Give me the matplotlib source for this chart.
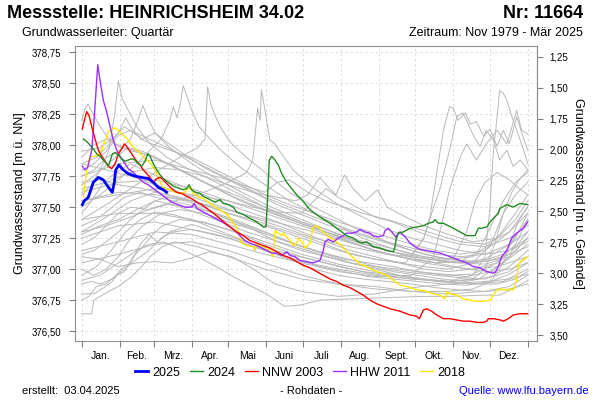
import numpy as np
import matplotlib
matplotlib.use('Agg')
import matplotlib.pyplot as plt
from matplotlib.ticker import FuncFormatter

plt.rcParams['font.family'] = ['Liberation Sans', 'DejaVu Sans']

# Kalender (Tag im Jahr)
month_starts = [0, 31, 59, 90, 120, 151, 181, 212, 243, 273, 304, 334, 365]
month_names = ['Jan.', 'Feb.', 'Mrz.', 'Apr.', 'Mai', 'Juni', 'Juli', 'Aug.', 'Sept.', 'Okt.', 'Nov.', 'Dez.']
gelaende = 379.965  # Gelaendehoehe, fuer rechte Achse

# farbige Jahre: (Tag, Wasserstand m u. NN)
y2025 = [(0.5, 377.52), (2, 377.55), (5.4, 377.58), (9.5, 377.70), (13.6, 377.74), (17.7, 377.72),
         (21.8, 377.66), (25, 377.62), (26.7, 377.70), (27.8, 377.80), (30.5, 377.84), (34, 377.80),
         (38, 377.77), (43.6, 377.75), (49, 377.74), (54.5, 377.73), (58.6, 377.70), (62.7, 377.66),
         (66.8, 377.64), (69.5, 377.62)]

y2024 = [(1.4, 378.05), (4.1, 378.03), (6.8, 378.00), (9.5, 377.97), (12.3, 377.93), (15, 377.91),
         (17.7, 377.88), (20.4, 377.85), (21.8, 377.83), (23.2, 377.87), (25.1, 377.93), (27.3, 377.94),
         (30, 377.92), (32.7, 377.89), (35.4, 377.87), (38.1, 377.88), (40.9, 377.89), (43.6, 377.88),
         (46.3, 377.85), (49.1, 377.83), (51.8, 377.87), (54, 377.93), (55.9, 377.91), (58.6, 377.85),
         (61.4, 377.80), (64.1, 377.76), (66.8, 377.73), (69.5, 377.71), (72.3, 377.69), (75, 377.67),
         (77.7, 377.66), (80.4, 377.65), (83.1, 377.64), (85.9, 377.65), (87.8, 377.68), (90, 377.64),
         (92.7, 377.62), (96.8, 377.61), (100.9, 377.58), (105, 377.56), (109.1, 377.54), (113.2, 377.56),
         (115.9, 377.53), (120, 377.52), (124.1, 377.50), (126.8, 377.46), (132.3, 377.44), (137.7, 377.41),
         (143.2, 377.38), (148.6, 377.34), (150.8, 377.34), (151.9, 377.53), (153.5, 377.88), (155.5, 377.91),
         (158.2, 377.88), (160.9, 377.84), (163.7, 377.77), (167.8, 377.70), (171.8, 377.65), (175.9, 377.60),
         (180, 377.56), (186.8, 377.48), (195, 377.42), (203.2, 377.37), (211.4, 377.31), (216.9, 377.27),
         (222.3, 377.25), (226.4, 377.22), (229.1, 377.21), (233.2, 377.22), (238.6, 377.18), (244.1, 377.17),
         (249.6, 377.15), (255, 377.14), (256.4, 377.18), (257.8, 377.27), (259.1, 377.29), (263.2, 377.30),
         (268.7, 377.33), (274.1, 377.34), (279.6, 377.35), (283.7, 377.37), (287.7, 377.38), (289.1, 377.40),
         (291.8, 377.37), (295.9, 377.37), (300, 377.35), (304.2, 377.33), (309.6, 377.30), (315.1, 377.27),
         (317.8, 377.27), (321.9, 377.27), (324.6, 377.33), (327.3, 377.33), (331.5, 377.34), (334.2, 377.38),
         (336.9, 377.41), (341, 377.45), (342.3, 377.49), (347.8, 377.52), (353.2, 377.50), (358.7, 377.53),
         (365, 377.52)]

nnw2003 = [(0.5, 378.13), (2.1, 378.20), (4.1, 378.27), (6, 378.24), (8.2, 378.15), (10.9, 378.05),
           (13.6, 377.96), (16.4, 377.91), (19.1, 377.87), (21.8, 377.83), (24.5, 377.81), (27.3, 377.85),
           (30, 377.93), (32.7, 377.97), (34.9, 378.01), (36.8, 377.99), (39.5, 377.95), (42.2, 377.91),
           (45, 377.87), (47.7, 377.84), (50.4, 377.80), (53.2, 377.77), (55.9, 377.74), (58.6, 377.70),
           (61.4, 377.73), (64.1, 377.74), (66.8, 377.72), (69.5, 377.69), (73.6, 377.65), (77.7, 377.62),
           (81.8, 377.61), (87.3, 377.58), (91.4, 377.56), (94.1, 377.54), (98.2, 377.52), (103.6, 377.48),
           (108, 377.45), (114, 377.40), (121.4, 377.34), (126.8, 377.30), (132.3, 377.27), (137.7, 377.23),
           (143.2, 377.21), (148.6, 377.19), (154.1, 377.17), (159.6, 377.14), (165, 377.11), (170.5, 377.09),
           (176, 377.06), (181.4, 377.03), (186.8, 377.01), (192.3, 376.98), (197.7, 376.95), (203.2, 376.92),
           (208.7, 376.90), (214.1, 376.87), (219.6, 376.85), (225, 376.82), (230.4, 376.79), (235.9, 376.75),
           (241.4, 376.72), (246.8, 376.70), (252.3, 376.68), (260.5, 376.66), (268.7, 376.63), (274.1, 376.62),
           (276.3, 376.60), (279.6, 376.67), (282.3, 376.68), (286.4, 376.66), (290.5, 376.63), (295.9, 376.60),
           (301.4, 376.60), (306.9, 376.59), (312.3, 376.58), (317.7, 376.58), (323.2, 376.57), (328.6, 376.57),
           (331.4, 376.58), (332.8, 376.60), (336.9, 376.60), (342.4, 376.59), (345.1, 376.58), (349.1, 376.60),
           (353.2, 376.63), (358.7, 376.64), (365, 376.64)]

hhw2011 = [(0.5, 377.83), (2.7, 377.80), (4.9, 377.82), (8.2, 377.96), (10.3, 378.23), (11.7, 378.44),
           (13.1, 378.65), (15, 378.52), (17.7, 378.36), (20.4, 378.27), (23.2, 378.15), (25.9, 378.04),
           (28.6, 377.96), (31.3, 377.91), (34.1, 377.87), (38.1, 377.81), (42.2, 377.78), (46.3, 377.74),
           (50.4, 377.70), (54.5, 377.68), (58.6, 377.65), (62.7, 377.62), (68.2, 377.58), (73.6, 377.54),
           (79.1, 377.52), (84.5, 377.50), (90, 377.50), (92.1, 377.53), (94.1, 377.49), (99.5, 377.46),
           (103.6, 377.44), (109.1, 377.41), (115, 377.38), (121.4, 377.34), (125.5, 377.31), (129.5, 377.27),
           (133.6, 377.23), (137.7, 377.21), (143.2, 377.19), (147.3, 377.17), (151.4, 377.15), (155.5, 377.13),
           (159.6, 377.13), (163.7, 377.11), (167.8, 377.14), (170.5, 377.11), (174.5, 377.10), (178.6, 377.07),
           (184.1, 377.06), (189.5, 377.05), (195, 377.07), (197.7, 377.15), (199.1, 377.22), (201.8, 377.24),
           (205.9, 377.22), (210, 377.25), (214.1, 377.27), (216.9, 377.29), (220.9, 377.29), (225, 377.30),
           (227.7, 377.32), (231.8, 377.30), (235.9, 377.29), (238.6, 377.27), (242.7, 377.26), (246.8, 377.27),
           (248.2, 377.31), (250.9, 377.33), (253.7, 377.30), (257.8, 377.25), (259.1, 377.29), (260.5, 377.30),
           (264.6, 377.26), (268.7, 377.21), (272.8, 377.18), (276.8, 377.16), (282.3, 377.15), (287.7, 377.14),
           (293.2, 377.13), (298.7, 377.11), (304.2, 377.09), (309.6, 377.07), (315.1, 377.05), (320.6, 377.02),
           (326, 377.01), (331.5, 376.98), (335.5, 376.97), (338.2, 376.97), (340.9, 377.02), (343.7, 377.10),
           (347.8, 377.15), (351.9, 377.25), (356, 377.29), (361.4, 377.33), (365, 377.38)]

y2018 = [(1.4, 377.58), (2.7, 377.69), (4.1, 377.80), (6, 377.88), (8.2, 377.91), (10.9, 377.91),
         (13.6, 377.92), (16.4, 377.96), (19.1, 378.04), (21.8, 378.11), (24.5, 378.13), (27.3, 378.14),
         (30, 378.12), (32.7, 378.09), (35.4, 378.07), (38.1, 378.04), (40.9, 378.00), (43.6, 377.97),
         (46.3, 377.95), (49.1, 377.92), (51.8, 377.89), (54.5, 377.87), (57.3, 377.84), (60, 377.80),
         (62.7, 377.74), (64.9, 377.69), (66, 377.66), (68.2, 377.65), (72.3, 377.64), (76.4, 377.62),
         (80.4, 377.61), (84.5, 377.62), (87.3, 377.66), (89.4, 377.64), (91.4, 377.61), (95.5, 377.58),
         (99.5, 377.57), (103.6, 377.54), (109.1, 377.50), (114.6, 377.47), (120, 377.43), (124.1, 377.37),
         (128.1, 377.31), (130.9, 377.21), (135, 377.19), (140.4, 377.18), (141.8, 377.15), (143.2, 377.21),
         (145.9, 377.19), (148.6, 377.18), (151.4, 377.17), (154.1, 377.15), (156.3, 377.10), (158.2, 377.31),
         (160.9, 377.29), (163.7, 377.27), (165, 377.29), (167.8, 377.26), (170.5, 377.23), (173.2, 377.19),
         (176, 377.21), (177.3, 377.25), (180, 377.22), (182.7, 377.17), (186.8, 377.21), (189.5, 377.34),
         (192.3, 377.35), (196.4, 377.31), (200.5, 377.27), (205.9, 377.24), (211.4, 377.20), (216.9, 377.14),
         (222.3, 377.09), (227.7, 377.04), (233.2, 377.02), (238.6, 376.99), (244.1, 376.97), (249.6, 376.95),
         (255, 376.91), (260.5, 376.87), (266, 376.86), (271.4, 376.84), (276.8, 376.83), (282.3, 376.82),
         (287.7, 376.80), (293.2, 376.79), (297.3, 376.76), (298.7, 376.82), (301.4, 376.80), (306.9, 376.79),
         (312.3, 376.76), (317.8, 376.75), (323.2, 376.74), (328.6, 376.74), (334.2, 376.75), (336.9, 376.79),
         (339.6, 376.83), (342.3, 376.84), (347.8, 376.83), (350.5, 376.84), (353.2, 376.83), (356, 376.91),
         (357.3, 377.03), (360.1, 377.07), (365, 377.10)]

g01 = [(0, 376.64), (8, 376.64), (10, 376.75), (22, 376.82), (30, 376.86), (41, 376.94), (49, 377.02), (57, 377.11),
       (66, 377.18), (76, 377.22), (95, 377.18), (120, 377.10), (150, 377.00), (180, 376.92), (210, 376.88),
       (240, 376.86), (270, 376.82), (300, 376.80), (330, 376.82), (350, 376.86), (365, 376.95)]
g02 = [(0, 376.75), (6, 376.78), (12, 376.86), (20, 376.88), (28, 376.95), (35, 376.98), (42, 377.10), (50, 377.18),
       (58, 377.28), (66, 377.35), (80, 377.40), (100, 377.38), (125, 377.30), (150, 377.20), (180, 377.10),
       (210, 377.02), (240, 376.96), (270, 376.92), (300, 376.90), (325, 376.92), (345, 377.05), (365, 377.20)]
g03 = [(0, 376.80), (10, 376.80), (18, 376.85), (25, 376.90), (32, 377.00), (40, 377.05), (48, 377.20), (55, 377.28),
       (62, 377.22), (72, 377.30), (90, 377.36), (110, 377.30), (140, 377.20), (170, 377.12), (200, 377.05),
       (230, 376.98), (260, 376.95), (290, 376.90), (320, 376.88), (345, 376.90), (365, 377.00)]
g04 = [(0, 376.91), (15, 376.95), (30, 377.05), (45, 377.15), (55, 377.20), (67, 377.22), (86, 377.14), (97, 377.09),
       (110, 377.02), (124, 376.94), (137, 376.87), (151, 376.80), (166, 376.70), (179, 376.71), (195, 376.75),
       (220, 376.76), (250, 376.77), (280, 376.78), (301, 376.78), (330, 376.79), (342, 376.79), (355, 376.85),
       (365, 376.91)]
g05 = [(0, 377.10), (15, 377.08), (30, 377.02), (45, 377.05), (59, 377.06), (74, 377.05), (90, 377.09), (104, 377.14),
       (123, 377.10), (139, 377.01), (158, 376.88), (180, 376.82), (210, 376.78), (240, 376.80), (270, 376.85),
       (300, 376.88), (330, 376.90), (350, 376.92), (365, 376.96)]
g06 = [(0, 377.20), (10, 377.25), (20, 377.35), (30, 377.45), (40, 377.50), (55, 377.48), (70, 377.52), (90, 377.50),
       (110, 377.45), (130, 377.38), (150, 377.30), (170, 377.22), (190, 377.15), (210, 377.10), (230, 377.05),
       (250, 377.00), (270, 376.97), (290, 376.95), (310, 376.93), (330, 376.92), (350, 376.98), (365, 377.10)]
g07 = [(0, 377.35), (12, 377.40), (25, 377.50), (35, 377.58), (48, 377.62), (60, 377.58), (75, 377.55), (95, 377.50),
       (115, 377.42), (135, 377.35), (155, 377.28), (175, 377.20), (195, 377.14), (215, 377.08), (235, 377.05),
       (255, 377.02), (275, 376.98), (295, 376.96), (315, 376.94), (335, 376.98), (350, 377.10), (365, 377.25)]
g08 = [(0, 377.45), (8, 377.55), (18, 377.70), (28, 377.78), (40, 377.85), (50, 377.80), (62, 377.75), (80, 377.68),
       (100, 377.60), (120, 377.52), (140, 377.45), (160, 377.38), (180, 377.30), (200, 377.22), (220, 377.15),
       (240, 377.10), (260, 377.05), (280, 377.00), (300, 376.98), (320, 377.00), (340, 377.05), (355, 377.20),
       (365, 377.40)]
g09 = [(0, 377.60), (8, 377.68), (15, 377.80), (22, 377.95), (27, 378.25), (30, 378.52), (33, 378.38), (37, 378.30),
       (45, 378.15), (55, 378.02), (70, 377.90), (85, 377.82), (100, 377.75), (120, 377.65), (140, 377.55),
       (160, 377.45), (180, 377.38), (200, 377.30), (220, 377.22), (240, 377.15), (260, 377.10), (280, 377.05),
       (300, 377.02), (320, 377.00), (340, 377.02), (365, 377.10)]
g10 = [(0, 378.20), (3, 378.30), (5, 378.33), (9, 378.26), (15, 378.15), (23, 378.04), (32, 377.98), (42, 377.95),
       (55, 377.92), (70, 377.85), (90, 377.75), (110, 377.65), (130, 377.55), (150, 377.47), (170, 377.40),
       (190, 377.33), (210, 377.27), (230, 377.20), (250, 377.15), (270, 377.10), (290, 377.07), (310, 377.05),
       (330, 377.08), (350, 377.20), (365, 377.40)]
g11 = [(0, 377.75), (10, 377.80), (20, 377.90), (30, 377.95), (40, 378.05), (46, 378.20), (50, 378.32), (54, 378.22),
       (60, 378.10), (70, 378.00), (80, 377.92), (95, 377.82), (115, 377.70), (135, 377.60), (155, 377.50),
       (175, 377.42), (195, 377.34), (215, 377.26), (235, 377.20), (255, 377.14), (275, 377.08), (295, 377.04),
       (315, 377.00), (335, 376.98), (350, 377.00), (365, 377.05)]
g12 = [(0, 377.50), (15, 377.60), (30, 377.72), (45, 377.85), (55, 377.95), (65, 378.05), (72, 378.20), (75, 378.31),
       (78, 378.22), (81, 378.35), (83, 378.48), (86, 378.40), (90, 378.28), (96, 378.15), (105, 378.05),
       (115, 377.95), (130, 377.82), (150, 377.68), (170, 377.55), (190, 377.45), (210, 377.35), (230, 377.25),
       (250, 377.18), (270, 377.12), (290, 377.08), (310, 377.05), (330, 377.04), (350, 377.10), (365, 377.25)]
g13 = [(0, 377.40), (20, 377.52), (40, 377.65), (60, 377.78), (80, 377.90), (95, 377.98), (101, 378.05), (103, 378.47),
       (106, 378.32), (110, 378.22), (115, 378.12), (122, 378.02), (135, 377.90), (150, 377.78), (170, 377.62),
       (190, 377.50), (210, 377.40), (230, 377.30), (250, 377.22), (270, 377.15), (290, 377.10), (310, 377.07),
       (330, 377.06), (350, 377.12), (365, 377.30)]
g14 = [(0, 377.30), (20, 377.35), (40, 377.42), (60, 377.50), (80, 377.56), (100, 377.62), (120, 377.70), (135, 377.78),
       (140, 377.88), (144, 378.30), (146, 378.20), (147, 378.45), (150, 378.28), (154, 378.04), (158, 378.01),
       (165, 377.91), (173, 377.80), (190, 377.65), (210, 377.52), (230, 377.42), (250, 377.32), (270, 377.25),
       (290, 377.20), (310, 377.15), (330, 377.12), (350, 377.15), (365, 377.22)]
g15 = [(0, 377.65), (20, 377.70), (40, 377.78), (60, 377.82), (80, 377.80), (100, 377.75), (120, 377.68), (140, 377.62),
       (160, 377.58), (175, 377.55), (185, 377.60), (195, 377.74), (200, 377.68), (208, 377.60), (215, 377.76),
       (222, 377.65), (232, 377.55), (242, 377.64), (250, 377.50), (265, 377.42), (280, 377.35), (300, 377.28),
       (320, 377.22), (340, 377.25), (355, 377.40), (365, 377.55)]
g16 = [(0, 377.85), (20, 377.80), (40, 377.75), (60, 377.68), (80, 377.62), (100, 377.55), (130, 377.45), (160, 377.35),
       (190, 377.25), (220, 377.18), (250, 377.12), (270, 377.10), (280, 377.25), (285, 377.42), (290, 377.74),
       (296, 378.12), (301, 378.31), (304, 378.30), (308, 378.20), (314, 378.26), (318, 378.17), (323, 378.19),
       (329, 378.07), (334, 378.13), (340, 377.99), (345, 378.12), (350, 378.01), (356, 378.23), (361, 378.07),
       (365, 377.96)]
g17 = [(0, 377.25), (30, 377.35), (60, 377.38), (90, 377.32), (120, 377.25), (150, 377.15), (180, 377.06), (210, 377.00),
       (240, 376.95), (270, 376.92), (300, 376.90), (320, 376.95), (330, 377.10), (334, 377.48), (337, 377.96),
       (340, 378.23), (342, 378.44), (345, 378.42), (348, 378.36), (352, 378.23), (356, 378.12), (360, 378.01),
       (365, 377.85)]
g18 = [(0, 377.55), (30, 377.62), (60, 377.60), (90, 377.55), (120, 377.45), (150, 377.35), (180, 377.25), (210, 377.15),
       (240, 377.08), (265, 377.05), (280, 377.25), (288, 377.50), (293, 377.64), (301, 377.96), (307, 378.23),
       (312, 378.26), (320, 378.09), (326, 377.99), (331, 378.12), (337, 378.04), (342, 377.88), (348, 377.96),
       (353, 377.83), (359, 377.88), (365, 377.80)]
g19 = [(0, 377.15), (30, 377.22), (60, 377.30), (90, 377.28), (120, 377.20), (150, 377.12), (180, 377.05), (210, 376.98),
       (240, 376.94), (270, 376.95), (288, 377.10), (296, 377.42), (301, 377.64), (310, 377.91), (315, 378.01),
       (323, 377.88), (331, 378.01), (340, 378.12), (348, 378.01), (356, 378.28), (360, 378.12), (365, 378.09)]
g20 = [(0, 377.30), (20, 377.42), (40, 377.55), (60, 377.62), (80, 377.58), (100, 377.52), (120, 377.45), (140, 377.40),
       (160, 377.33), (180, 377.27), (200, 377.20), (220, 377.12), (240, 377.08), (260, 377.05), (280, 377.02),
       (300, 377.00), (320, 377.05), (335, 377.20), (345, 377.45), (355, 377.60), (365, 377.70)]
g21 = [(0, 377.70), (15, 377.72), (30, 377.68), (50, 377.65), (70, 377.60), (90, 377.55), (110, 377.50), (130, 377.45),
       (150, 377.40), (170, 377.35), (190, 377.30), (210, 377.24), (230, 377.18), (250, 377.12), (270, 377.08),
       (290, 377.05), (310, 377.06), (325, 377.15), (335, 377.35), (345, 377.55), (355, 377.70), (365, 377.78)]
g22 = [(0, 377.90), (10, 378.00), (20, 378.05), (30, 378.00), (45, 377.95), (60, 377.90), (80, 377.80), (100, 377.70),
       (120, 377.62), (140, 377.54), (160, 377.46), (180, 377.38), (200, 377.32), (220, 377.25), (240, 377.20),
       (260, 377.15), (280, 377.10), (300, 377.08), (320, 377.10), (340, 377.25), (355, 377.45), (365, 377.60)]
g23 = [(0, 377.00), (10, 376.95), (20, 377.00), (30, 377.10), (40, 377.25), (50, 377.35), (65, 377.45), (80, 377.48),
       (100, 377.45), (120, 377.38), (140, 377.32), (160, 377.25), (180, 377.18), (200, 377.12), (220, 377.05),
       (240, 377.00), (260, 376.95), (280, 376.92), (300, 376.90), (320, 376.88), (340, 376.88), (355, 376.92),
       (365, 376.98)]
g24 = [(0, 376.88), (8, 376.90), (15, 376.88), (25, 376.92), (35, 377.00), (45, 377.08), (55, 377.15), (65, 377.25),
       (75, 377.30), (90, 377.32), (110, 377.28), (130, 377.22), (150, 377.15), (170, 377.08), (190, 377.00),
       (210, 376.95), (230, 376.92), (250, 376.90), (270, 376.88), (290, 376.85), (310, 376.83), (330, 376.82),
       (350, 376.84), (365, 376.88)]
g25 = [(0, 377.12), (10, 377.15), (20, 377.22), (30, 377.30), (40, 377.40), (50, 377.48), (60, 377.55), (70, 377.58),
       (85, 377.55), (100, 377.50), (120, 377.40), (140, 377.32), (160, 377.22), (180, 377.15), (200, 377.10),
       (220, 377.05), (240, 377.02), (260, 377.00), (280, 376.97), (300, 376.95), (320, 376.96), (340, 377.05),
       (355, 377.25), (365, 377.45)]
g26 = [(0, 377.80), (10, 377.85), (20, 377.95), (30, 378.08), (40, 378.12), (55, 378.05), (70, 377.98), (90, 377.88),
       (110, 377.78), (130, 377.68), (150, 377.58), (170, 377.50), (190, 377.42), (210, 377.35), (230, 377.28),
       (250, 377.22), (270, 377.17), (290, 377.12), (310, 377.10), (330, 377.12), (350, 377.20), (365, 377.30)]
g27 = [(0, 377.55), (30, 377.60), (60, 377.65), (90, 377.60), (120, 377.55), (140, 377.50), (160, 377.46), (180, 377.45),
       (190, 377.55), (200, 377.65), (210, 377.58), (225, 377.50), (240, 377.42), (255, 377.38), (270, 377.32),
       (290, 377.25), (310, 377.20), (330, 377.18), (350, 377.25), (365, 377.35)]
g28 = [(0, 377.40), (30, 377.45), (60, 377.45), (90, 377.40), (120, 377.32), (150, 377.22), (180, 377.12), (210, 377.04),
       (240, 376.98), (270, 376.93), (300, 376.90), (320, 376.92), (330, 377.00), (338, 377.20), (345, 377.45),
       (352, 377.62), (358, 377.72), (365, 377.80)]
g29 = [(0, 377.62), (30, 377.70), (60, 377.72), (90, 377.65), (120, 377.55), (150, 377.45), (180, 377.35), (210, 377.25),
       (240, 377.15), (270, 377.08), (290, 377.05), (305, 377.10), (315, 377.30), (322, 377.55), (330, 377.70),
       (340, 377.78), (350, 377.72), (358, 377.65), (365, 377.60)]
g30 = [(0, 377.05), (30, 377.12), (60, 377.20), (90, 377.22), (120, 377.15), (150, 377.05), (180, 376.95), (210, 376.88),
       (240, 376.84), (270, 376.82), (300, 376.82), (320, 376.84), (335, 376.90), (345, 377.05), (352, 377.25),
       (358, 377.40), (365, 377.50)]
g31 = [(0, 377.95), (15, 377.98), (25, 378.05), (35, 378.15), (42, 378.10), (50, 378.05), (60, 378.10), (70, 378.02),
       (85, 377.92), (100, 377.82), (120, 377.72), (140, 377.62), (160, 377.52), (180, 377.44), (200, 377.36),
       (220, 377.30), (240, 377.24), (260, 377.18), (280, 377.12), (300, 377.08), (320, 377.05), (340, 377.08),
       (365, 377.18)]
g32 = [(0, 377.75), (30, 377.85), (60, 377.88), (90, 377.80), (120, 377.72), (140, 377.65), (150, 377.62), (160, 377.70),
       (170, 377.72), (185, 377.62), (200, 377.55), (215, 377.50), (230, 377.45), (250, 377.40), (270, 377.34),
       (290, 377.28), (310, 377.22), (330, 377.20), (350, 377.30), (365, 377.45)]
g33 = [(0, 377.28), (15, 377.35), (30, 377.40), (45, 377.48), (60, 377.55), (75, 377.52), (95, 377.45), (115, 377.38),
       (135, 377.30), (155, 377.24), (175, 377.18), (195, 377.12), (215, 377.06), (235, 377.02), (255, 376.98),
       (275, 376.95), (295, 376.92), (315, 376.90), (335, 376.94), (350, 377.02), (365, 377.15)]
g34 = [(0, 377.68), (10, 377.75), (25, 377.88), (38, 377.98), (50, 377.95), (65, 377.88), (85, 377.78), (105, 377.68),
       (125, 377.58), (145, 377.50), (165, 377.42), (185, 377.35), (205, 377.28), (225, 377.22), (245, 377.16),
       (265, 377.12), (285, 377.08), (305, 377.05), (325, 377.06), (345, 377.12), (365, 377.25)]
g35 = [(0, 376.95), (12, 377.02), (24, 377.15), (36, 377.30), (48, 377.40), (60, 377.46), (75, 377.44), (95, 377.38),
       (115, 377.30), (135, 377.22), (155, 377.14), (175, 377.08), (195, 377.02), (215, 376.98), (235, 376.94),
       (255, 376.92), (275, 376.90), (295, 376.88), (315, 376.87), (335, 376.90), (350, 376.96), (365, 377.05)]
g36 = [(0, 377.85), (12, 377.90), (22, 378.00), (30, 378.10), (36, 378.22), (40, 378.15), (48, 378.05), (60, 378.00),
       (75, 377.95), (90, 377.90), (110, 377.80), (130, 377.70), (150, 377.60), (170, 377.52), (190, 377.45),
       (210, 377.38), (230, 377.32), (250, 377.26), (270, 377.20), (290, 377.15), (310, 377.12), (330, 377.15),
       (350, 377.30), (365, 377.50)]

grey_years = [g01, g02, g03, g04, g05, g06, g07, g08, g09, g10, g11, g12, g13, g14, g15, g16, g17, g18,
              g19, g20, g21, g22, g23, g24, g25, g26, g27, g28, g29, g30, g31, g32, g33, g34, g35, g36]

fig = plt.figure(figsize=(6, 4), dpi=100)
ax = fig.add_axes([0.125, 0.1475, 0.77, 0.7375])

for g in grey_years:
    d, v = zip(*g)
    ax.plot(d, v, color='#b8b8b8', lw=0.7, zorder=2)

series = [(y2018, '#ffe600', 1.0, '2018'), (hhw2011, '#9b30ff', 1.0, 'HHW 2011'),
          (nnw2003, '#ff0000', 1.0, 'NNW 2003'), (y2024, '#228b22', 1.0, '2024'),
          (y2025, '#0000ff', 2.0, '2025')]
handles = {}
for data, col, lw, lab in series:
    d, v = zip(*data)
    handles[lab], = ax.plot(d, v, color=col, lw=lw, zorder=3)

ax.set_xlim(-5.5, 372.6)
ax.set_ylim(376.42, 378.80)

mids = [(month_starts[i] + month_starts[i + 1]) / 2 for i in range(12)]
ax.set_xticks(month_starts)
ax.set_xticklabels([])
ax.set_xticks(mids, minor=True)
ax.set_xticklabels(month_names, minor=True)
ax.tick_params(axis='x', which='minor', length=0, labelsize=7.5, pad=7)
ax.tick_params(axis='x', which='major', length=4, color='#808080')

comma = FuncFormatter(lambda v, p: f'{v:.2f}'.replace('.', ','))
ax.set_yticks(np.arange(376.5, 378.76, 0.25))
ax.yaxis.set_major_formatter(comma)
ax.tick_params(axis='y', length=4, color='#808080', labelsize=7, pad=6)

ax.grid(True, which='major', linestyle=(0, (3, 3)), color='#d8d8d8', lw=0.6, zorder=0)
for s in ax.spines.values():
    s.set_color('#909090')

sec = ax.secondary_yaxis('right', functions=(lambda y: gelaende - y, lambda t: gelaende - t))
sec.set_yticks(np.arange(1.25, 3.51, 0.25))
sec.yaxis.set_major_formatter(comma)
sec.tick_params(axis='y', length=4, color='#808080', labelsize=7, pad=5)
sec.spines['right'].set_color('#909090')

fig.text(20 / 600, 0.516, 'Grundwasserstand [m ü. NN]', rotation=90, ha='center', va='center', fontsize=9)
fig.text(578 / 600, 0.516, 'Grundwasserstand [m u. Gelände]', rotation=270, ha='center', va='center', fontsize=9)

fig.text(7 / 600, 0.966, 'Messstelle: HEINRICHSHEIM 34.02', fontsize=13, fontweight='bold', va='center')
fig.text(583 / 600, 0.966, 'Nr: 11664', fontsize=13, fontweight='bold', va='center', ha='right')
fig.text(22 / 600, 0.9175, 'Grundwasserleiter: Quartär', fontsize=9, va='center')
fig.text(583 / 600, 0.9175, 'Zeitraum: Nov 1979 - Mär 2025', fontsize=9, va='center', ha='right')

order = ['2025', '2024', 'NNW 2003', 'HHW 2011', '2018']
fig.legend([handles[k] for k in order], order, loc='center', bbox_to_anchor=(0.5, 0.068), ncol=5,
           frameon=False, fontsize=9, handlelength=1.05, handletextpad=0.35, columnspacing=0.75)

fig.text(22 / 600, 0.0225, 'erstellt:  03.04.2025', fontsize=8, va='center')
fig.text(311 / 600, 0.0225, '- Rohdaten -', fontsize=8, va='center', ha='center')
fig.text(589 / 600, 0.0225, 'Quelle: www.lfu.bayern.de', fontsize=8, va='center', ha='right', color='#0000ff')

fig.savefig('out.png', dpi=100)
